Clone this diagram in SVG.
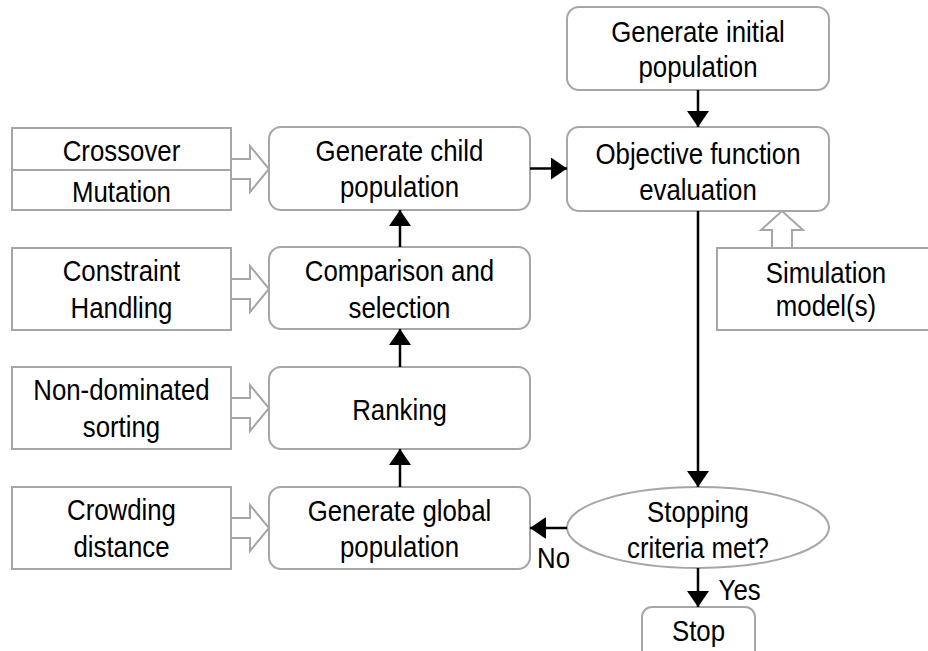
<svg xmlns="http://www.w3.org/2000/svg" width="928" height="651" viewBox="0 0 928 651">
  <style>
    .box { fill: #ffffff; stroke: #a6a6a6; stroke-width: 2; }
    .plain { fill: #ffffff; stroke: #a6a6a6; stroke-width: 2; }
    .hollow { fill: #ffffff; stroke: #a6a6a6; stroke-width: 2; stroke-linejoin: miter; }
    .flow { fill: none; stroke: #000000; stroke-width: 2.5; }
    text { font-family: "Liberation Sans", Arial, sans-serif; font-size: 29px; fill: #000000; text-anchor: middle;
           transform: scaleX(0.89); transform-box: fill-box; transform-origin: center; }
    .lbl { text-anchor: start; }
  </style>
  <defs>
    <marker id="arrow" markerUnits="userSpaceOnUse" markerWidth="16" markerHeight="22" refX="16" refY="11" orient="auto" viewBox="0 0 16 22">
      <path d="M0,0 L16,11 L0,22 Z" fill="#000000"/>
    </marker>
  </defs>

  <!-- side inputs (left column) -->
  <g id="crossover-mutation">
    <rect class="plain" x="12" y="128" width="219" height="82"/>
    <line x1="12" y1="170" x2="231" y2="170" stroke="#a6a6a6" stroke-width="2"/>
    <text x="121.5" y="161">Crossover</text>
    <text x="121.5" y="202">Mutation</text>
  </g>
  <g id="constraint-handling">
    <rect class="plain" x="12" y="248" width="219" height="82"/>
    <text x="121.5" y="281">Constraint</text>
    <text x="121.5" y="318">Handling</text>
  </g>
  <g id="non-dominated-sorting">
    <rect class="plain" x="12" y="367" width="219" height="82"/>
    <text x="121.5" y="400">Non-dominated</text>
    <text x="121.5" y="437">sorting</text>
  </g>
  <g id="crowding-distance">
    <rect class="plain" x="12" y="487" width="219" height="82"/>
    <text x="121.5" y="520">Crowding</text>
    <text x="121.5" y="557">distance</text>
  </g>

  <!-- hollow input arrows -->
  <g id="input-arrows">
    <path class="hollow" d="M231,159 H250 V146 L269,169 L250,192 V179 H231 Z"/>
    <path class="hollow" d="M231,279 H250 V266 L269,289 L250,312 V299 H231 Z"/>
    <path class="hollow" d="M231,398 H250 V385 L269,408 L250,431 V418 H231 Z"/>
    <path class="hollow" d="M231,518 H250 V505 L269,528 L250,551 V538 H231 Z"/>
    <path class="hollow" d="M772,248 V230 H761 L782,211 L803,230 H792 V248 Z"/>
  </g>

  <!-- main process column -->
  <g id="generate-child-population">
    <rect class="box" x="269" y="127" width="261" height="83" rx="12"/>
    <text x="399.5" y="161">Generate child</text>
    <text x="399.5" y="197">population</text>
  </g>
  <g id="comparison-selection">
    <rect class="box" x="269" y="247" width="261" height="82" rx="12"/>
    <text x="399.5" y="281">Comparison and</text>
    <text x="399.5" y="318">selection</text>
  </g>
  <g id="ranking">
    <rect class="box" x="269" y="367" width="261" height="82" rx="12"/>
    <text x="399.5" y="420">Ranking</text>
  </g>
  <g id="generate-global-population">
    <rect class="box" x="269" y="487" width="261" height="82" rx="12"/>
    <text x="399.5" y="521">Generate global</text>
    <text x="399.5" y="557">population</text>
  </g>

  <!-- right column -->
  <g id="generate-initial-population">
    <rect class="box" x="567" y="7" width="262" height="83" rx="12"/>
    <text x="698" y="42">Generate initial</text>
    <text x="698" y="77">population</text>
  </g>
  <g id="objective-function-evaluation">
    <rect class="box" x="567" y="127" width="262" height="84" rx="12"/>
    <text x="698" y="164">Objective function</text>
    <text x="698" y="200">evaluation</text>
  </g>
  <g id="simulation-models">
    <rect class="plain" x="717" y="248" width="220" height="82"/>
    <text x="826" y="283">Simulation</text>
    <text x="826" y="316">model(s)</text>
  </g>
  <g id="stopping-criteria">
    <ellipse class="box" cx="698" cy="527.5" rx="131" ry="40.5"/>
    <text x="698" y="522">Stopping</text>
    <text x="698" y="558">criteria met?</text>
  </g>
  <g id="stop">
    <rect class="box" x="642" y="607" width="113" height="60" rx="10"/>
    <text x="698.5" y="641">Stop</text>
  </g>

  <!-- flow connectors -->
  <g id="connectors">
    <line class="flow" x1="698" y1="90" x2="698" y2="127" marker-end="url(#arrow)"/>
    <line class="flow" x1="530" y1="168.5" x2="567" y2="168.5" marker-end="url(#arrow)"/>
    <line class="flow" x1="400" y1="247" x2="400" y2="210" marker-end="url(#arrow)"/>
    <line class="flow" x1="400" y1="367" x2="400" y2="329" marker-end="url(#arrow)"/>
    <line class="flow" x1="400" y1="487" x2="400" y2="449" marker-end="url(#arrow)"/>
    <line class="flow" x1="698" y1="211" x2="698" y2="487" marker-end="url(#arrow)"/>
    <line class="flow" x1="567" y1="528" x2="530" y2="528" marker-end="url(#arrow)"/>
    <line class="flow" x1="698" y1="568" x2="698" y2="607" marker-end="url(#arrow)"/>
    <text class="lbl" x="535" y="568">No</text>
    <text class="lbl" x="716" y="600">Yes</text>
  </g>
</svg>
